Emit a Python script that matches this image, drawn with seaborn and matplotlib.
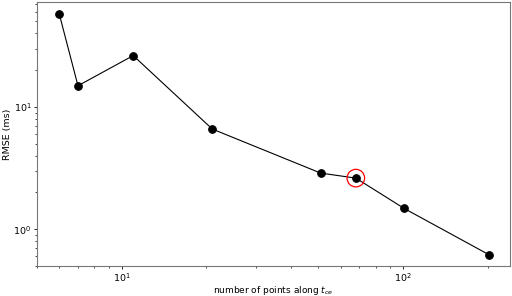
import seaborn as sns
import matplotlib.pyplot as plt
import pandas as pd

n_points = [6, 7, 11, 21, 51, 68, 101, 202]
rmse = [58, 14.9, 26.3, 6.6, 2.88, 2.62, 1.48, 0.62]
chosen_n = [68]
chosen_rmse = [2.62]

df = pd.DataFrame({'n': n_points, 'rmse': rmse})
chosen = pd.DataFrame({'n': chosen_n, 'rmse': chosen_rmse})

fig, ax = plt.subplots(figsize=(5.12, 2.96), dpi=100)
fig.subplots_adjust(left=0.072, right=0.996, top=0.993, bottom=0.101)

sns.lineplot(x='n', y='rmse', data=df, color='black', marker='o', markersize=5.5,
             markeredgecolor='black', linewidth=0.8, ax=ax)
sns.scatterplot(x='n', y='rmse', data=chosen, s=160, facecolor='none',
                edgecolor='red', linewidth=0.9, ax=ax, zorder=5)

ax.set_xscale('log')
ax.set_yscale('log')
ax.set_xlim(5, 240)
ax.set_ylim(0.5, 72)

ax.set_xlabel('number of points along $t_{ce}$', fontsize=6.5, labelpad=0)
ax.set_ylabel('RMSE (ms)', fontsize=6.8, labelpad=1)
ax.tick_params(labelsize=6.8, pad=1.5)
ax.tick_params(which='major', length=2.5, width=0.6)
ax.tick_params(which='minor', length=1.5, width=0.5)
for s in ax.spines.values():
    s.set_color('#777777')

plt.savefig('out.png', dpi=100)
